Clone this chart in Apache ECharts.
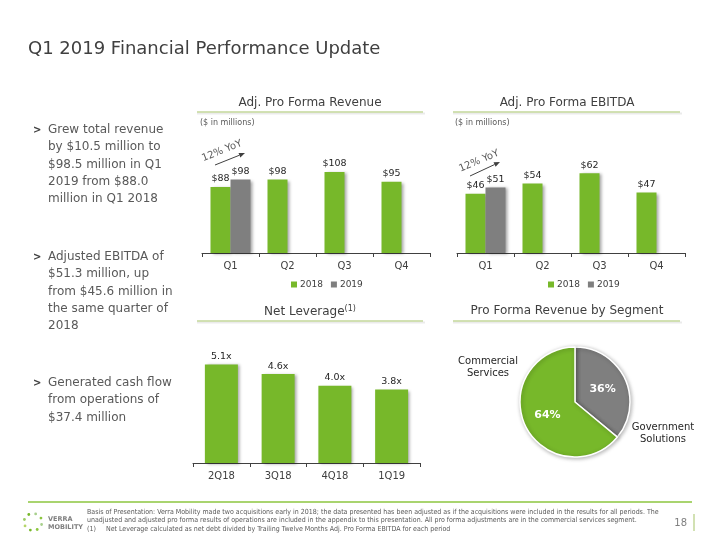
<!DOCTYPE html>
<html>
<head>
<meta charset="utf-8">
<script src="https://cdn.jsdelivr.net/npm/echarts@6/dist/echarts.min.js"></script>
<style>
html,body{margin:0;padding:0;background:#fff;}
#c{width:720px;height:540px;}
</style>
</head>
<body>
<div id="c"></div>
<script>
// ---- data ----
const quarters = ['Q1', 'Q2', 'Q3', 'Q4'];
const revenue2018 = [88, 98, 108, 95];
const revenue2019 = [98, null, null, null];
const ebitda2018 = [46, 54, 62, 47];
const ebitda2019 = [51, null, null, null];
const leverageQuarters = ['2Q18', '3Q18', '4Q18', '1Q19'];
const leverage = [5.1, 4.6, 4.0, 3.8];
const segmentNames = ['Government Solutions', 'Commercial Services'];
const segmentShares = [36, 64];
const yoyText = '12% YoY';
const bullets = [
  ['Grew total revenue', 'by $10.5 million to', '$98.5 million in Q1', '2019 from $88.0', 'million in Q1 2018'],
  ['Adjusted EBITDA of', '$51.3 million, up', 'from $45.6 million in', 'the same quarter of', '2018'],
  ['Generated cash flow', 'from operations of', '$37.4 million']
];
const footnote = [
  'Basis of Presentation: Verra Mobility made two acquisitions early in 2018; the data presented has been adjusted as if the acquisitions were included in the results for all periods. The',
  'unadjusted and adjusted pro forma results of operations are included in the appendix to this presentation. All pro forma adjustments are in the commercial services segment.',
  '(1)     Net Leverage calculated as net debt divided by Trailing Twelve Months Adj. Pro Forma EBITDA for each period'
];

// ---- style ----
const GREEN = '#77b82a';
const GREY = '#7f7f7f';
const TXT = '#404040';
const FONT = '"DejaVu Sans", Verdana, sans-serif';
const barShadow = {shadowColor: 'rgba(0,0,0,0.35)', shadowBlur: 3, shadowOffsetX: 2, shadowOffsetY: 1};

const chart = echarts.init(document.getElementById('c'), null, {renderer: 'canvas'});

function xAxisCfg(idx, cats) {
  return {
    type: 'category', gridIndex: idx, data: cats,
    axisLine: {lineStyle: {color: '#404040', width: 1}},
    axisTick: {show: true, length: 4, lineStyle: {color: '#404040'}},
    axisLabel: {color: TXT, fontSize: 10, fontFamily: FONT, margin: 8}
  };
}
function barLabel(fmt) {
  return {show: true, position: 'top', distance: 3, color: '#262626', fontSize: 9.5, fontFamily: FONT, formatter: fmt};
}
function arrow(x1, y1, x2, y2) {
  const dx = x2 - x1, dy = y2 - y1, L = Math.hypot(dx, dy);
  const ux = dx / L, uy = dy / L, nx = -uy, ny = ux;
  const bx = x2 - 6 * ux, by = y2 - 6 * uy;
  return [
    {type: 'line', shape: {x1: x1, y1: y1, x2: bx, y2: by}, style: {stroke: '#404040', lineWidth: 1}},
    {type: 'polygon', shape: {points: [[x2, y2], [bx + 2.5 * nx, by + 2.5 * ny], [bx - 2.5 * nx, by - 2.5 * ny]]}, style: {fill: '#404040'}}
  ];
}
function sectionTitle(text, cx, y, x1, x2, lineY) {
  return [
    {type: 'text', x: cx, y: y, style: {text: text, fill: TXT, font: '12px ' + FONT, align: 'center', verticalAlign: 'middle',
      rich: {sup: {fontSize: 8, fill: TXT, fontFamily: FONT, verticalAlign: 'top', padding: [0, 0, 6, 0]}}}},
    {type: 'line', shape: {x1: x1, y1: lineY + 1.5, x2: x2 + 2, y2: lineY + 1.5}, style: {stroke: 'rgba(0,0,0,0.08)', lineWidth: 2}},
    {type: 'line', shape: {x1: x1, y1: lineY, x2: x2, y2: lineY}, style: {stroke: '#c3d79a', lineWidth: 1.5}}
  ];
}

const graphics = [];
// page title
graphics.push({type: 'text', x: 28, y: 49, style: {text: 'Q1 2019 Financial Performance Update', fill: TXT, font: '18px ' + FONT, verticalAlign: 'middle'}});
// bullets
const bulletStarts = [130, 257, 383];
bullets.forEach(function (lines, i) {
  graphics.push({type: 'text', x: 33, y: bulletStarts[i], style: {text: '>', fill: '#404040', font: 'bold 10px ' + FONT, verticalAlign: 'middle'}});
  lines.forEach(function (ln, j) {
    graphics.push({type: 'text', x: 48, y: bulletStarts[i] + j * 17.2, style: {text: ln, fill: '#595959', font: '12px ' + FONT, verticalAlign: 'middle'}});
  });
});
// section titles
sectionTitle('Adj. Pro Forma Revenue', 310, 103, 197, 423, 112).forEach(g => graphics.push(g));
sectionTitle('Adj. Pro Forma EBITDA', 567, 103, 453, 680, 112).forEach(g => graphics.push(g));
sectionTitle('Net Leverage{sup|(1)}', 310, 312, 197, 423, 321).forEach(g => graphics.push(g));
sectionTitle('Pro Forma Revenue by Segment', 567, 311, 453, 680, 321).forEach(g => graphics.push(g));
// units
graphics.push({type: 'text', x: 200, y: 123, style: {text: '($ in millions)', fill: '#595959', font: '8px ' + FONT, verticalAlign: 'middle'}});
graphics.push({type: 'text', x: 455, y: 123, style: {text: '($ in millions)', fill: '#595959', font: '8px ' + FONT, verticalAlign: 'middle'}});
// YoY annotations
graphics.push({type: 'text', x: 222, y: 151, rotation: 0.38, style: {text: yoyText, fill: '#595959', font: '10px ' + FONT, align: 'center', verticalAlign: 'middle'}});
arrow(215, 165, 245, 153).forEach(g => graphics.push(g));
graphics.push({type: 'text', x: 479, y: 161, rotation: 0.4, style: {text: yoyText, fill: '#595959', font: '10px ' + FONT, align: 'center', verticalAlign: 'middle'}});
arrow(470, 176, 500, 162).forEach(g => graphics.push(g));
// pie outside names
graphics.push({type: 'text', x: 488, y: 367, style: {text: segmentNames[1].replace(' ', '\n'), fill: '#262626', font: '10px ' + FONT, align: 'center', verticalAlign: 'middle', lineHeight: 12}});
graphics.push({type: 'text', x: 663, y: 433, style: {text: segmentNames[0].replace(' ', '\n'), fill: '#262626', font: '10px ' + FONT, align: 'center', verticalAlign: 'middle', lineHeight: 12}});
// footer
graphics.push({type: 'line', shape: {x1: 28, y1: 502, x2: 692, y2: 502}, style: {stroke: '#8cc63f', lineWidth: 1.5}});
footnote.forEach(function (ln, i) {
  graphics.push({type: 'text', x: 87, y: 512 + i * 8.5, style: {text: ln, fill: '#595959', font: '7px "DejaVu Sans Condensed", "Liberation Sans", sans-serif', verticalAlign: 'middle'}});
});
graphics.push({type: 'text', x: 687, y: 523, style: {text: '18', fill: '#7f7f7f', font: '10px ' + FONT, align: 'right', verticalAlign: 'middle'}});
graphics.push({type: 'line', shape: {x1: 694, y1: 514, x2: 694, y2: 531}, style: {stroke: '#c3d79a', lineWidth: 1.5}});
// logo
const logoShades = ['#a8d08d', '#8cc63f', '#77b82a', '#b5d56a', '#9ccc65', '#77b82a', '#a8d08d', '#8cc63f'];
for (let k = 0; k < 8; k++) {
  const a = k / 8 * Math.PI * 2 + 0.3;
  graphics.push({type: 'circle', shape: {cx: 33 + 9 * Math.cos(a), cy: 522 + 8.5 * Math.sin(a), r: 1.4}, style: {fill: logoShades[k]}});
}
graphics.push({type: 'text', x: 48, y: 519, style: {text: 'VERRA', fill: '#7f7f7f', font: 'bold 6.5px ' + FONT, verticalAlign: 'middle'}});
graphics.push({type: 'text', x: 48, y: 527, style: {text: 'MOBILITY', fill: '#7f7f7f', font: 'bold 6.5px ' + FONT, verticalAlign: 'middle'}});

const option = {
  animation: false,
  textStyle: {fontFamily: FONT},
  grid: [
    {left: 202, top: 163, width: 228, height: 90},
    {left: 457, top: 163, width: 228, height: 90},
    {left: 193, top: 347, width: 227, height: 116}
  ],
  xAxis: [xAxisCfg(0, quarters), xAxisCfg(1, quarters), xAxisCfg(2, leverageQuarters)],
  yAxis: [
    {type: 'value', gridIndex: 0, min: 0, max: 120, show: false},
    {type: 'value', gridIndex: 1, min: 0, max: 70, show: false},
    {type: 'value', gridIndex: 2, min: 0, max: 6, show: false}
  ],
  legend: [
    {left: 286, top: 275, itemWidth: 6, itemHeight: 6, itemGap: 8, icon: 'rect', data: ['2018', '2019'],
      textStyle: {color: TXT, fontSize: 9, fontFamily: FONT, padding: [0, 0, 0, -2]}},
    {left: 543, top: 275, itemWidth: 6, itemHeight: 6, itemGap: 8, icon: 'rect', data: ['2018', '2019'],
      textStyle: {color: TXT, fontSize: 9, fontFamily: FONT, padding: [0, 0, 0, -2]}}
  ],
  series: [
    {name: '2018', type: 'bar', xAxisIndex: 0, yAxisIndex: 0, data: revenue2018, barWidth: 20, barGap: '0%',
      itemStyle: Object.assign({color: GREEN}, barShadow), label: barLabel('${c}')},
    {name: '2019', type: 'bar', xAxisIndex: 0, yAxisIndex: 0, data: revenue2019, barWidth: 20, barGap: '0%',
      itemStyle: Object.assign({color: GREY}, barShadow), label: barLabel('${c}')},
    {name: '2018', type: 'bar', xAxisIndex: 1, yAxisIndex: 1, data: ebitda2018, barWidth: 20, barGap: '0%',
      itemStyle: Object.assign({color: GREEN}, barShadow), label: barLabel('${c}')},
    {name: '2019', type: 'bar', xAxisIndex: 1, yAxisIndex: 1, data: ebitda2019, barWidth: 20, barGap: '0%',
      itemStyle: Object.assign({color: GREY}, barShadow), label: barLabel('${c}')},
    {name: 'Net Leverage', type: 'bar', xAxisIndex: 2, yAxisIndex: 2, data: leverage, barWidth: 33,
      itemStyle: Object.assign({color: GREEN}, barShadow),
      label: barLabel(function (p) { return p.value.toFixed(1) + 'x'; })},
    {name: 'Segment', type: 'pie', center: [575, 402], radius: [0, 55], startAngle: 90, clockwise: true,
      data: segmentNames.map(function (n, i) { return {name: n, value: segmentShares[i], itemStyle: {color: i === 0 ? GREY : GREEN}}; }),
      itemStyle: {borderColor: '#fff', borderWidth: 1.5, shadowColor: 'rgba(0,0,0,0.3)', shadowBlur: 4, shadowOffsetX: 1, shadowOffsetY: 1},
      label: {show: true, position: 'inside', formatter: '{c}%', color: '#fff', fontWeight: 'bold', fontSize: 11, fontFamily: FONT},
      labelLine: {show: false}, emphasis: {disabled: true}}
  ],
  graphic: graphics
};
chart.setOption(option);
</script>
</body>
</html>
